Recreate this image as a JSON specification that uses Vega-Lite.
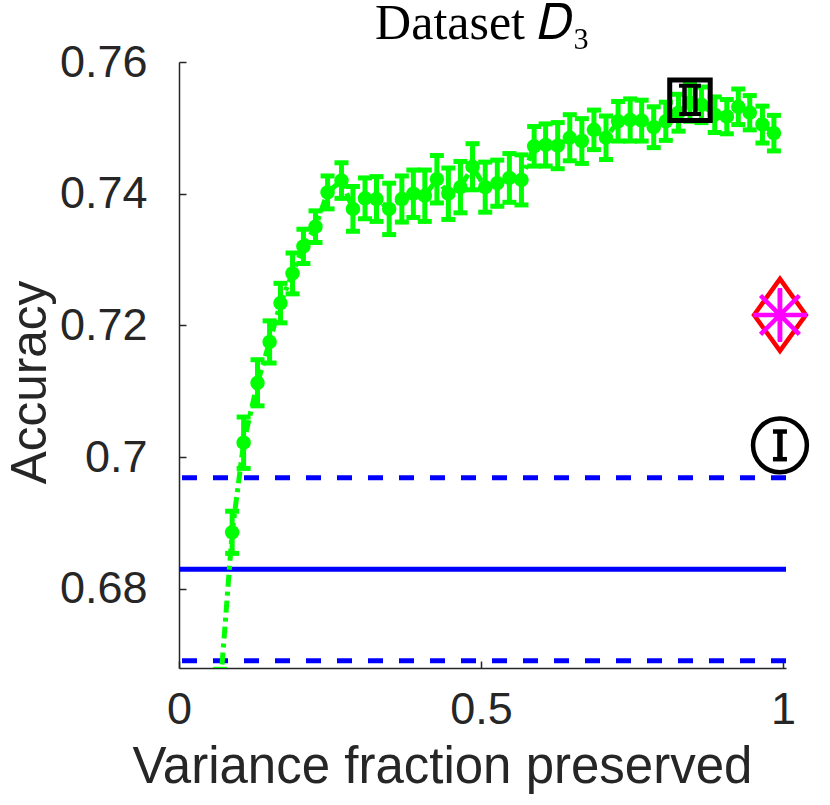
{
  "$schema": "https://vega.github.io/schema/vega-lite/v6.json",
  "width": 607,
  "height": 606,
  "autosize": {"type": "none"},
  "padding": {"left": 179, "top": 62, "right": 44, "bottom": 137},
  "background": "#ffffff",
  "title": {
    "text": "Dataset 𝐷₃",
    "font": "Liberation Serif",
    "fontSize": 50,
    "fontWeight": "normal",
    "color": "#000000",
    "anchor": "middle",
    "frame": "group",
    "offset": 3,
    "dy": 12
  },
  "datasets": {
    "curve": [
      {"vf": 0.068, "acc": 0.6646, "lo": 0.6614, "hi": 0.6678},
      {"vf": 0.088, "acc": 0.6886, "lo": 0.6854, "hi": 0.6918},
      {"vf": 0.107, "acc": 0.7022, "lo": 0.6983, "hi": 0.7061},
      {"vf": 0.130, "acc": 0.7113, "lo": 0.7078, "hi": 0.7148},
      {"vf": 0.150, "acc": 0.7175, "lo": 0.7143, "hi": 0.7207},
      {"vf": 0.168, "acc": 0.7234, "lo": 0.7204, "hi": 0.7264},
      {"vf": 0.188, "acc": 0.7279, "lo": 0.7248, "hi": 0.7310},
      {"vf": 0.206, "acc": 0.7320, "lo": 0.7294, "hi": 0.7346},
      {"vf": 0.226, "acc": 0.7350, "lo": 0.7326, "hi": 0.7374},
      {"vf": 0.246, "acc": 0.7402, "lo": 0.7377, "hi": 0.7427},
      {"vf": 0.269, "acc": 0.7420, "lo": 0.7393, "hi": 0.7447},
      {"vf": 0.288, "acc": 0.7377, "lo": 0.7343, "hi": 0.7411},
      {"vf": 0.308, "acc": 0.7393, "lo": 0.7362, "hi": 0.7424},
      {"vf": 0.327, "acc": 0.7392, "lo": 0.7358, "hi": 0.7426},
      {"vf": 0.348, "acc": 0.7377, "lo": 0.7338, "hi": 0.7416},
      {"vf": 0.369, "acc": 0.7392, "lo": 0.7357, "hi": 0.7427},
      {"vf": 0.388, "acc": 0.7400, "lo": 0.7364, "hi": 0.7436},
      {"vf": 0.407, "acc": 0.7397, "lo": 0.7358, "hi": 0.7436},
      {"vf": 0.427, "acc": 0.7422, "lo": 0.7386, "hi": 0.7458},
      {"vf": 0.446, "acc": 0.7400, "lo": 0.7361, "hi": 0.7439},
      {"vf": 0.466, "acc": 0.7410, "lo": 0.7371, "hi": 0.7449},
      {"vf": 0.486, "acc": 0.7441, "lo": 0.7406, "hi": 0.7476},
      {"vf": 0.507, "acc": 0.7410, "lo": 0.7372, "hi": 0.7448},
      {"vf": 0.527, "acc": 0.7416, "lo": 0.7381, "hi": 0.7451},
      {"vf": 0.547, "acc": 0.7424, "lo": 0.7387, "hi": 0.7461},
      {"vf": 0.567, "acc": 0.7421, "lo": 0.7383, "hi": 0.7459},
      {"vf": 0.588, "acc": 0.7472, "lo": 0.7442, "hi": 0.7502},
      {"vf": 0.607, "acc": 0.7474, "lo": 0.7442, "hi": 0.7506},
      {"vf": 0.627, "acc": 0.7473, "lo": 0.7438, "hi": 0.7508},
      {"vf": 0.647, "acc": 0.7485, "lo": 0.7450, "hi": 0.7520},
      {"vf": 0.667, "acc": 0.7480, "lo": 0.7446, "hi": 0.7514},
      {"vf": 0.687, "acc": 0.7497, "lo": 0.7467, "hi": 0.7527},
      {"vf": 0.707, "acc": 0.7485, "lo": 0.7452, "hi": 0.7518},
      {"vf": 0.727, "acc": 0.7510, "lo": 0.7480, "hi": 0.7540},
      {"vf": 0.747, "acc": 0.7512, "lo": 0.7480, "hi": 0.7544},
      {"vf": 0.766, "acc": 0.7511, "lo": 0.7480, "hi": 0.7542},
      {"vf": 0.786, "acc": 0.7501, "lo": 0.7470, "hi": 0.7532},
      {"vf": 0.806, "acc": 0.7510, "lo": 0.7481, "hi": 0.7539},
      {"vf": 0.827, "acc": 0.7523, "lo": 0.7495, "hi": 0.7551},
      {"vf": 0.846, "acc": 0.7538, "lo": 0.7510, "hi": 0.7566},
      {"vf": 0.865, "acc": 0.7535, "lo": 0.7508, "hi": 0.7562},
      {"vf": 0.887, "acc": 0.7520, "lo": 0.7493, "hi": 0.7547},
      {"vf": 0.907, "acc": 0.7517, "lo": 0.7491, "hi": 0.7543},
      {"vf": 0.926, "acc": 0.7532, "lo": 0.7505, "hi": 0.7559},
      {"vf": 0.945, "acc": 0.7523, "lo": 0.7497, "hi": 0.7549},
      {"vf": 0.966, "acc": 0.7505, "lo": 0.7477, "hi": 0.7533},
      {"vf": 0.985, "acc": 0.7492, "lo": 0.7465, "hi": 0.7519}
    ],
    "baseline": [
      {"level": "upper", "acc": 0.6969},
      {"level": "mean", "acc": 0.6830},
      {"level": "lower", "acc": 0.6691}
    ],
    "square": [
      {"vf": 0.846, "acc": 0.7542}
    ],
    "squarebars": [
      {"vf": 0.837, "lo": 0.7521, "hi": 0.7564},
      {"vf": 0.855, "lo": 0.7521, "hi": 0.7564}
    ],
    "circle": [
      {"vf": 0.995, "acc": 0.7018, "lo": 0.6997, "hi": 0.7039}
    ],
    "star": [
      {"vf": 0.995, "acc": 0.7216, "lo": 0.7177, "hi": 0.7255}
    ]
  },
  "encoding": {
    "x": {
      "field": "vf",
      "type": "quantitative",
      "scale": {"domain": [0, 1.005], "nice": false, "zero": false},
      "axis": {
        "title": "Variance fraction preserved",
        "values": [0, 0.5, 1],
        "format": "~g",
        "tickSize": -7,
        "labelPadding": 26,
        "labelFlush": false,
        "titlePadding": 10,
        "titleFontSize": 51,
        "titleX": 263
      }
    },
    "y": {
      "field": "acc",
      "type": "quantitative",
      "scale": {"domain": [0.668, 0.76], "nice": false, "zero": false},
      "axis": {
        "title": "Accuracy",
        "values": [0.68, 0.7, 0.72, 0.74, 0.76],
        "format": "~g",
        "tickSize": -7,
        "labelPadding": 39,
        "titlePadding": 4,
        "titleY": 320
      }
    }
  },
  "layer": [
    {
      "data": {"name": "baseline"},
      "transform": [{"filter": "datum.level != 'mean'"}],
      "mark": {"type": "rule", "color": "#0000ff", "strokeWidth": 5, "strokeDash": [15, 16]},
      "encoding": {"x": null, "y": {"field": "acc", "type": "quantitative"}}
    },
    {
      "data": {"name": "baseline"},
      "transform": [{"filter": "datum.level == 'mean'"}],
      "mark": {"type": "rule", "color": "#0000ff", "strokeWidth": 5},
      "encoding": {"x": null, "y": {"field": "acc", "type": "quantitative"}}
    },
    {
      "data": {"name": "curve"},
      "mark": {"type": "line", "color": "#00ff00", "strokeWidth": 5, "strokeDash": [12, 5, 4, 5], "clip": true},
      "encoding": {}
    },
    {
      "data": {"name": "curve"},
      "mark": {"type": "rule", "color": "#00ff00", "strokeWidth": 5, "clip": true},
      "encoding": {"y": {"field": "lo", "type": "quantitative"}, "y2": {"field": "hi"}}
    },
    {
      "data": {"name": "curve"},
      "mark": {"type": "tick", "orient": "horizontal", "color": "#00ff00", "size": 14, "thickness": 5, "opacity": 1, "clip": true},
      "encoding": {"y": {"field": "lo", "type": "quantitative"}}
    },
    {
      "data": {"name": "curve"},
      "mark": {"type": "tick", "orient": "horizontal", "color": "#00ff00", "size": 14, "thickness": 5, "opacity": 1, "clip": true},
      "encoding": {"y": {"field": "hi", "type": "quantitative"}}
    },
    {
      "data": {"name": "curve"},
      "mark": {"type": "point", "shape": "circle", "filled": true, "color": "#00ff00", "size": 210, "opacity": 1, "clip": true},
      "encoding": {}
    },
    {
      "data": {"name": "square"},
      "mark": {"type": "point", "shape": "square", "filled": false, "color": "#000000", "strokeWidth": 5, "size": 1640, "opacity": 1},
      "encoding": {}
    },
    {
      "data": {"name": "squarebars"},
      "mark": {"type": "rule", "color": "#000000", "strokeWidth": 4.5},
      "encoding": {"y": {"field": "lo", "type": "quantitative"}, "y2": {"field": "hi"}}
    },
    {
      "data": {"name": "squarebars"},
      "mark": {"type": "tick", "orient": "horizontal", "color": "#000000", "size": 11, "thickness": 4, "opacity": 1},
      "encoding": {"y": {"field": "lo", "type": "quantitative"}}
    },
    {
      "data": {"name": "squarebars"},
      "mark": {"type": "tick", "orient": "horizontal", "color": "#000000", "size": 11, "thickness": 4, "opacity": 1},
      "encoding": {"y": {"field": "hi", "type": "quantitative"}}
    },
    {
      "data": {"name": "circle"},
      "mark": {"type": "point", "shape": "circle", "filled": false, "color": "#000000", "strokeWidth": 4.5, "size": 2900, "opacity": 1},
      "encoding": {}
    },
    {
      "data": {"name": "circle"},
      "mark": {"type": "rule", "color": "#000000", "strokeWidth": 5.5},
      "encoding": {"y": {"field": "lo", "type": "quantitative"}, "y2": {"field": "hi"}}
    },
    {
      "data": {"name": "circle"},
      "mark": {"type": "tick", "orient": "horizontal", "color": "#000000", "size": 14, "thickness": 4.5, "opacity": 1},
      "encoding": {"y": {"field": "lo", "type": "quantitative"}}
    },
    {
      "data": {"name": "circle"},
      "mark": {"type": "tick", "orient": "horizontal", "color": "#000000", "size": 14, "thickness": 4.5, "opacity": 1},
      "encoding": {"y": {"field": "hi", "type": "quantitative"}}
    },
    {
      "data": {"name": "star"},
      "mark": {"type": "point", "shape": "M0,-1L0.72,0L0,1L-0.72,0Z", "filled": false, "color": "#ff0000", "strokeWidth": 4.5, "size": 5184, "opacity": 1},
      "encoding": {}
    },
    {
      "data": {"name": "star"},
      "mark": {"type": "rule", "color": "#ff00ff", "strokeWidth": 4.5},
      "encoding": {"y": {"field": "lo", "type": "quantitative"}, "y2": {"field": "hi"}}
    },
    {
      "data": {"name": "star"},
      "mark": {"type": "point", "shape": "M-1,0L1,0M0,-1L0,1M-0.72,-0.72L0.72,0.72M-0.72,0.72L0.72,-0.72", "filled": false, "color": "#ff00ff", "strokeWidth": 4.5, "size": 2916, "opacity": 1},
      "encoding": {}
    }
  ],
  "config": {
    "view": {"stroke": null},
    "axis": {
      "grid": false,
      "labelFont": "Liberation Sans",
      "labelFontSize": 45,
      "labelColor": "#262626",
      "titleFont": "Liberation Sans",
      "titleFontSize": 49.5,
      "titleFontWeight": "normal",
      "titleColor": "#262626",
      "domainColor": "#262626",
      "domainWidth": 1.5,
      "tickColor": "#262626",
      "tickWidth": 1.5
    }
  }
}
